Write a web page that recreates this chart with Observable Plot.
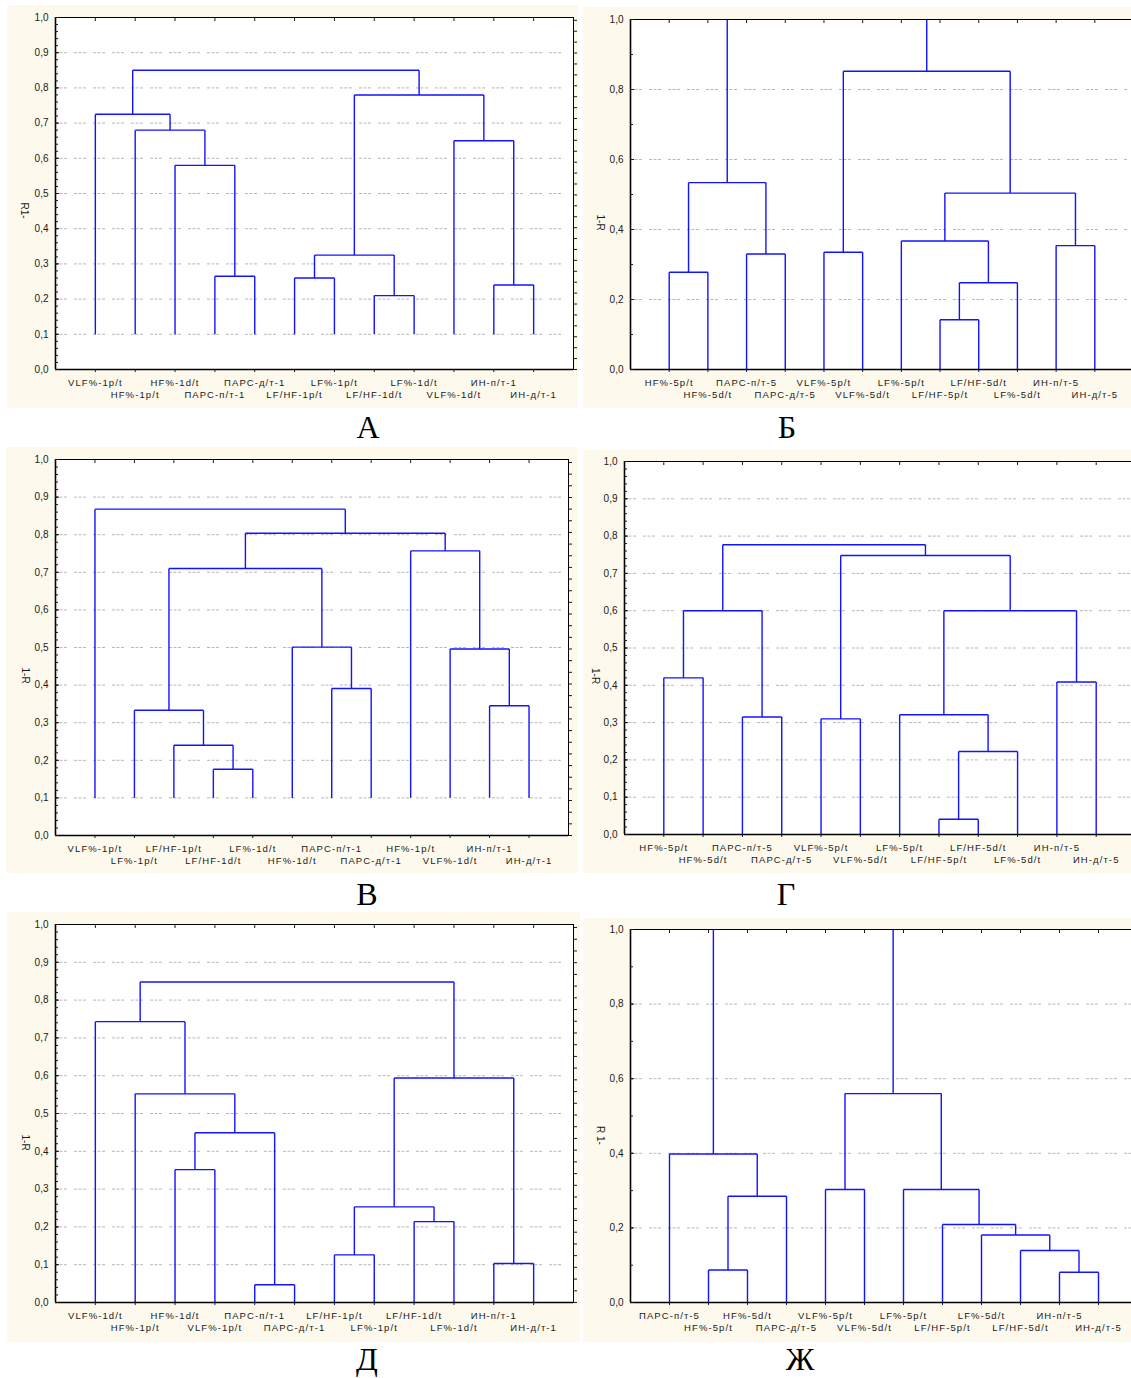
<!DOCTYPE html>
<html>
<head>
<meta charset="utf-8">
<script src="https://cdn.jsdelivr.net/npm/d3@7"></script>
<script src="https://cdn.jsdelivr.net/npm/@observablehq/plot@0.6"></script>
<style>
  html, body { margin: 0; padding: 0; }
  body { width: 1131px; height: 1378px; overflow: hidden; background: #ffffff; position: relative;
         font-family: "Liberation Sans", Arial, sans-serif; }
  .panel { position: absolute; }
  .panel svg { display: block; overflow: visible; max-width: none !important; }
  .panel g[aria-label="x-axis tick label"] text { letter-spacing: 1.1px; }
  .letter { position: absolute; width: 80px; margin-left: -40px; text-align: center;
            font-family: "Liberation Serif", "Times New Roman", serif; font-size: 32px; line-height: 32px; color: #000; }
</style>
</head>
<body>
<script>
// ---------------- DATA ----------------
// Leaf order (left to right) and merge steps [childA, childB, height]; child ids: 0..11 leaves, 12+ merge results
const leavesA = ["VLF%-1p/t","HF%-1p/t","HF%-1d/t","ПАРС-п/т-1","ПАРС-д/т-1","LF/HF-1p/t","LF%-1p/t","LF/HF-1d/t","LF%-1d/t","VLF%-1d/t","ИН-п/т-1","ИН-д/т-1"];
const mergesA = [[3,4,0.265],[2,12,0.58],[1,13,0.68],[0,14,0.725],[5,6,0.26],[7,8,0.21],[16,17,0.325],[10,11,0.24],[9,19,0.65],[18,20,0.78],[15,21,0.85]];

const leavesB = ["HF%-5p/t","HF%-5d/t","ПАРС-п/т-5","ПАРС-д/т-5","VLF%-5p/t","VLF%-5d/t","LF%-5p/t","LF/HF-5p/t","LF/HF-5d/t","LF%-5d/t","ИН-п/т-5","ИН-д/т-5"];
const mergesB = [[0,1,0.278],[2,3,0.33],[12,13,0.534],[4,5,0.335],[7,8,0.142],[16,9,0.248],[6,17,0.367],[10,11,0.354],[18,19,0.504],[15,20,0.852],[14,21,1.05]];

const leavesV = ["VLF%-1p/t","LF%-1p/t","LF/HF-1p/t","LF/HF-1d/t","LF%-1d/t","HF%-1d/t","ПАРС-п/т-1","ПАРС-д/т-1","HF%-1p/t","VLF%-1d/t","ИН-п/т-1","ИН-д/т-1"];
const mergesV = [[3,4,0.176],[2,12,0.24],[1,13,0.333],[6,7,0.391],[5,15,0.501],[14,16,0.71],[10,11,0.345],[9,18,0.496],[8,19,0.757],[17,20,0.804],[0,21,0.868]];

const leavesG = ["HF%-5p/t","HF%-5d/t","ПАРС-п/т-5","ПАРС-д/т-5","VLF%-5p/t","VLF%-5d/t","LF%-5p/t","LF/HF-5p/t","LF/HF-5d/t","LF%-5d/t","ИН-п/т-5","ИН-д/т-5"];
const mergesG = [[0,1,0.42],[2,3,0.315],[12,13,0.60],[4,5,0.31],[7,8,0.041],[16,9,0.2225],[6,17,0.321],[10,11,0.409],[18,19,0.60],[15,20,0.748],[14,21,0.777]];

const leavesD = ["VLF%-1d/t","HF%-1p/t","HF%-1d/t","VLF%-1p/t","ПАРС-п/т-1","ПАРС-д/т-1","LF/HF-1p/t","LF%-1p/t","LF/HF-1d/t","LF%-1d/t","ИН-п/т-1","ИН-д/т-1"];
const mergesD = [[2,3,0.3515],[4,5,0.047],[12,13,0.449],[1,14,0.552],[0,15,0.743],[6,7,0.126],[8,9,0.214],[17,18,0.253],[10,11,0.103],[19,20,0.594],[16,21,0.848]];

const leavesZh = ["ПАРС-п/т-5","HF%-5p/t","HF%-5d/t","ПАРС-д/т-5","VLF%-5p/t","VLF%-5d/t","LF%-5p/t","LF/HF-5p/t","LF%-5d/t","LF/HF-5d/t","ИН-п/т-5","ИН-д/т-5"];
const mergesZh = [[1,2,0.087],[12,3,0.285],[0,13,0.398],[4,5,0.303],[10,11,0.081],[9,16,0.1395],[8,17,0.181],[7,18,0.209],[6,19,0.303],[15,20,0.56],[14,21,1.05]];

const ticksTenth = [0,0.1,0.2,0.3,0.4,0.5,0.6,0.7,0.8,0.9,1.0];
const ticksFifth = [0,0.2,0.4,0.6,0.8,1.0];
const gridTenth = [0.1,0.2,0.3,0.4,0.5,0.6,0.7,0.8,0.9];
const gridFifth = [0.2,0.4,0.6,0.8];

const panelLetters = ["А","Б","В","Г","Д","Ж"];
const axisTitles = ["R1-","1-R","1-R","1-R","1-R","R 1-"];

// ---------------- STYLE / LAYOUT ----------------
const CREAM = "#fdf9ec";
const BLUE = "#1212ff";
const GRID = "#b8b8b8";

const panels = [
  {leaves: leavesA, merges: mergesA, base: 0.1, yTicks: ticksTenth, grid: gridTenth, minorStep: 0.02, rightTicks: true,
   left: 7, top: 5, width: 571, height: 403, mL: 48, mT: 12, mR: 5, mB: 39, labDx: -31, labDy: 9, lx: 368, ly: 411},
  {leaves: leavesB, merges: mergesB, base: 0, yTicks: ticksFifth, grid: gridFifth, minorStep: 0.1, rightTicks: false,
   left: 583, top: 7, width: 560, height: 401, mL: 47, mT: 12, mR: 10, mB: 39, labDx: -30, labDy: 20, lx: 787, ly: 411},
  {leaves: leavesV, merges: mergesV, base: 0.1, yTicks: ticksTenth, grid: gridTenth, minorStep: 0.02, rightTicks: true,
   left: 6, top: 447, width: 572, height: 426, mL: 49, mT: 12, mR: 10, mB: 38, labDx: -30, labDy: 20, lx: 367, ly: 878},
  {leaves: leavesG, merges: mergesG, base: 0, yTicks: ticksTenth, grid: gridTenth, minorStep: 0.02, rightTicks: false,
   left: 583, top: 450, width: 560, height: 423, mL: 41, mT: 11, mR: 8, mB: 39, labDx: -29, labDy: 20, lx: 786, ly: 878},
  {leaves: leavesD, merges: mergesD, base: 0, yTicks: ticksTenth, grid: gridTenth, minorStep: 0.02, rightTicks: true,
   left: 7, top: 912, width: 573, height: 430, mL: 48, mT: 12, mR: 7, mB: 40, labDx: -30, labDy: 21, lx: 367, ly: 1343},
  {leaves: leavesZh, merges: mergesZh, base: 0, yTicks: ticksFifth, grid: gridFifth, minorStep: 0.1, rightTicks: false,
   left: 583, top: 918, width: 560, height: 424, mL: 47, mT: 11, mR: 6, mB: 40, labDx: -30, labDy: 10, lx: 800, ly: 1343}
];

// Build dendrogram segments from merge list (node x = midpoint of children)
function dendro(leaves, merges, base) {
  const xs = leaves.map((_, i) => i + 1);
  const hs = leaves.map(() => base);
  const segs = [];
  for (const [a, b, h] of merges) {
    segs.push({x1: xs[a], y1: hs[a], x2: xs[a], y2: h});
    segs.push({x1: xs[b], y1: hs[b], x2: xs[b], y2: h});
    segs.push({x1: xs[a], y1: h, x2: xs[b], y2: h});
    xs.push((xs[a] + xs[b]) / 2);
    hs.push(h);
  }
  return segs;
}

const fmt = d => d.toFixed(1).replace(".", ",");
const blank = () => "";

panels.forEach((cfg, k) => {
  const segs = dendro(cfg.leaves, cfg.merges, cfg.base);
  const xs = cfg.leaves.map((_, i) => i + 1);
  const oddXs = xs.filter(v => v % 2 === 1);
  const evenXs = xs.filter(v => v % 2 === 0);
  const minor = d3.range(0, 1.0001, cfg.minorStep);
  const marks = [
    Plot.frame({fill: "white", stroke: null}),
    Plot.ruleY(cfg.grid, {stroke: GRID, strokeWidth: 1, strokeDasharray: "3,1.5,3,1.5,3,7", insetRight: 5}),
    Plot.link(segs, {x1: "x1", y1: "y1", x2: "x2", y2: "y2", stroke: BLUE, strokeWidth: 1.4, clip: true}),
    Plot.frame({stroke: "#000", strokeWidth: 1}),
    Plot.ruleX([0], {stroke: "#000", strokeWidth: 1.6}),
    Plot.ruleY([0], {stroke: "#000", strokeWidth: 1.6}),
    Plot.axisY({ticks: cfg.yTicks, tickFormat: fmt, tickSize: 0, tickPadding: 7, fontSize: 10, label: null}),
    Plot.axisY({ticks: minor, tickSize: 3, dx: 3, tickFormat: blank, label: null}),
    Plot.axisY({ticks: cfg.yTicks, tickSize: 4, dx: 4, tickFormat: blank, label: null}),
    Plot.axisX({anchor: "bottom", ticks: xs, tickSize: 3, tickFormat: blank, label: null}),
    Plot.axisX({anchor: "top", ticks: xs, tickSize: 3, dy: 3, tickFormat: blank, label: null}),
    Plot.axisX({anchor: "bottom", ticks: oddXs, tickSize: 0, tickPadding: 10, fontSize: 9.5,
                tickFormat: i => cfg.leaves[i - 1], label: null}),
    Plot.axisX({anchor: "bottom", ticks: evenXs, tickSize: 0, tickPadding: 22, fontSize: 9.5,
                tickFormat: i => cfg.leaves[i - 1], label: null}),
    Plot.text([axisTitles[k]], {frameAnchor: "left", rotate: 90, dx: cfg.labDx, dy: cfg.labDy,
                                fontSize: 10, text: d => d})
  ];
  if (cfg.rightTicks) {
    marks.push(Plot.axisY({anchor: "right", ticks: d3.range(0, 1.0001, 0.031), tickSize: 3,
                           tickFormat: blank, label: null}));
  }
  const chart = Plot.plot({
    width: cfg.width,
    height: cfg.height,
    marginLeft: cfg.mL, marginTop: cfg.mT, marginRight: cfg.mR, marginBottom: cfg.mB,
    x: {domain: [0, 13]},
    y: {domain: [0, 1]},
    style: {background: CREAM, fontFamily: '"Liberation Sans", Arial, sans-serif', fontSize: "10px", color: "#1a1a1a", maxWidth: "none"},
    marks
  });
  const div = document.createElement("div");
  div.className = "panel";
  div.style.left = cfg.left + "px";
  div.style.top = cfg.top + "px";
  div.style.width = cfg.width + "px";
  div.style.height = cfg.height + "px";
  div.appendChild(chart);
  document.body.appendChild(div);

  const letter = document.createElement("div");
  letter.className = "letter";
  letter.style.left = cfg.lx + "px";
  letter.style.top = cfg.ly + "px";
  letter.textContent = panelLetters[k];
  document.body.appendChild(letter);
});
</script>
</body>
</html>
